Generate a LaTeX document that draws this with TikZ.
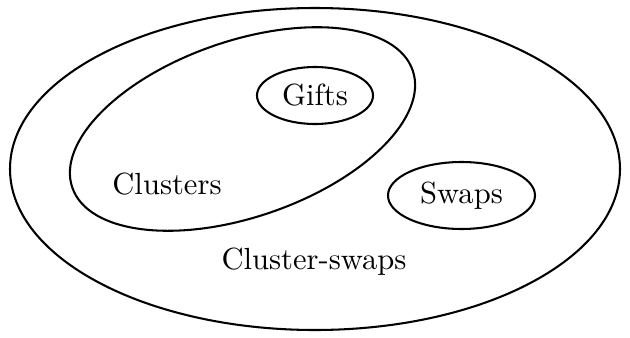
\documentclass[tikz,border=0pt]{standalone}
\usetikzlibrary{shapes.geometric}

\begin{document}
\begin{tikzpicture}[x=0.34pt,y=-0.34pt]
\tikzstyle{every node}=[inner sep=0pt,font=\fontsize{10.4}{12}\selectfont]
\tikzstyle{set}=[draw,ellipse,line width=0.7pt]
\useasboundingbox (0,0) rectangle (630,338);
\draw[line width=0.7pt] (315,169) ellipse [x radius=305, y radius=161];
\draw[line width=0.7pt,rotate around={19:(242.5,129)}] (242.5,129) ellipse [x radius=180, y radius=88];
\node[set,minimum width=116*0.34pt,minimum height=57*0.34pt] (gifts) at (315,95.5) {Gifts};
\node[set,minimum width=147*0.34pt,minimum height=67*0.34pt] (swaps) at (461.5,195.5) {Swaps};
\node (clusters) at (167,184) {Clusters};
\node (clusterswaps) at (314,262) {Cluster-swaps};
\end{tikzpicture}
\end{document}
